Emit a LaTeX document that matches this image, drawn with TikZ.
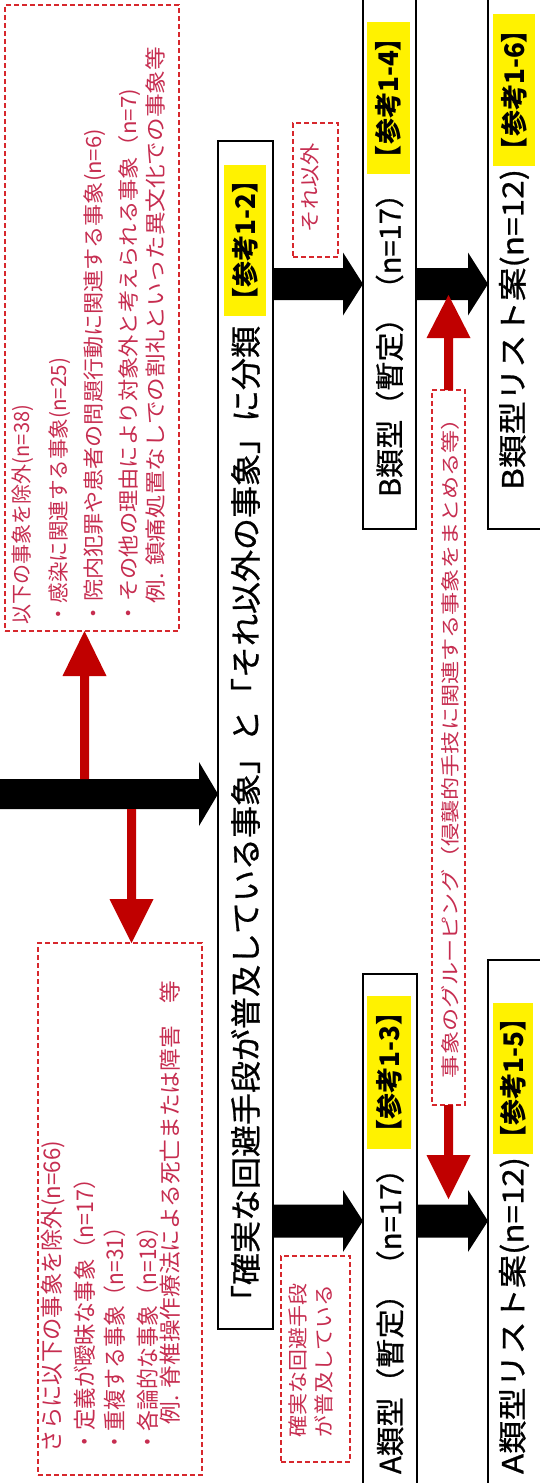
\documentclass[tikz,border=0pt]{standalone}
\usepackage{fontspec}
\setmainfont{Noto Sans CJK JP}
\newfontfamily\jpmed[FakeBold=0.8]{Noto Sans CJK JP}
\usepackage{graphicx}
\usetikzlibrary{calc}
\definecolor{redtxt}{RGB}{198,45,80}
\definecolor{reddash}{RGB}{215,40,45}
\definecolor{darkred}{RGB}{192,0,0}
\newcommand\fitw[2]{\resizebox{#1pt}{\height}{#2}}
% horizontal arrow: start, end, shaft half width, head half width, head length, colour
\newcommand\harrow[6]{\fill[#6] ($(#1)+(0,#3)$) -- ($(#2)+(-#5,#3)$) -- ($(#2)+(-#5,#4)$) -- (#2) -- ($(#2)+(-#5,-#4)$) -- ($(#2)+(-#5,-#3)$) -- ($(#1)+(0,-#3)$) -- cycle;}
% vertical arrow: start, end, shaft half width, head half width, signed head length (image y), colour
\newcommand\varrow[6]{\fill[#6] ($(#1)+(-#3,0)$) -- ($(#2)+(-#3,#5)$) -- ($(#2)+(-#4,#5)$) -- (#2) -- ($(#2)+(#4,#5)$) -- ($(#2)+(#3,#5)$) -- ($(#1)+(#3,0)$) -- cycle;}
\tikzset{
  blkbox/.style={draw=black, line width=1.2pt, fill=white, inner sep=0pt, outer sep=0pt},
  redbox/.style={draw=reddash, line width=1.2pt, dash pattern=on 5pt off 3pt, inner sep=0pt, outer sep=0pt},
  txt/.style={rotate=90, anchor=west, inner sep=0pt, outer sep=0pt},
  redtext/.style={txt, text=redtxt, font=\fontsize{#1}{#1}\selectfont},
  blktext/.style={txt, text=black, font=\jpmed\fontsize{#1}{#1}\selectfont},
  hl/.style={rotate=90, fill=yellow, inner sep=0pt, outer sep=0pt, font=\fontsize{27}{27}\selectfont\bfseries},
}
\begin{document}
\begin{tikzpicture}[x=1pt, y=-1pt]
\useasboundingbox (0,0) rectangle (540,1483);
\clip (0,0) rectangle (540,1483);

% boxes
\node[blkbox, minimum width=55pt, minimum height=1188pt] (title) at (245.5,735) {};
\node[blkbox, minimum width=54pt, minimum height=526pt] (Abox) at (390,1237) {};
\node[blkbox, minimum width=57pt, minimum height=540pt] (Alist) at (516.5,1230) {};
\node[blkbox, minimum width=53pt, minimum height=549pt] (Bbox) at (389.5,254.5) {};
\node[blkbox, minimum width=57pt, minimum height=549pt] (Blist) at (516.5,254.5) {};
\node[redbox, minimum width=174pt, minimum height=626pt] (topbox) at (92,318) {};
\node[redbox, minimum width=164pt, minimum height=532pt] (botbox) at (120,1209) {};
\node[redbox, minimum width=45pt, minimum height=134pt] (sorebox) at (315.5,190) {};
\node[redbox, minimum width=69pt, minimum height=206pt] (kakubox) at (315.5,1359) {};
\node[redbox, minimum width=33pt, minimum height=715pt] (midbox) at (448.5,747.5) {};

% black arrows
\coordinate (m0) at (0,794);
\coordinate (m1) at (title.west |- m0);
\harrow{m0}{m1}{15}{32}{19}{black}
\coordinate (yA) at (0,1221);
\coordinate (yB) at (0,284);
\coordinate (a1) at (title.east |- yA);
\coordinate (a2) at (Abox.west |- yA);
\coordinate (a3) at (Abox.east |- yA);
\coordinate (a4) at (Alist.west |- yA);
\coordinate (b1) at (title.east |- yB);
\coordinate (b2) at (Bbox.west |- yB);
\coordinate (b3) at (Bbox.east |- yB);
\coordinate (b4) at (Blist.west |- yB);
\harrow{a1}{a2}{16.5}{31}{20}{black}
\harrow{a3}{a4}{16.5}{31}{20}{black}
\harrow{b1}{b2}{16}{31.5}{20}{black}
\harrow{b3}{b4}{16}{31.5}{20}{black}

% red arrows
\coordinate (ru0) at (84.5,779);
\coordinate (ru1) at (topbox.south -| ru0);
\varrow{ru0}{ru1}{4.5}{22}{45}{darkred}
\coordinate (rd0) at (131.5,809);
\coordinate (rd1) at (botbox.north -| rd0);
\varrow{rd0}{rd1}{4.5}{22}{-44}{darkred}
\coordinate (mu1) at ($(midbox.north)+(0,-95)$);
\varrow{midbox.north}{mu1}{4.5}{22}{43}{darkred}
\coordinate (md1) at ($(midbox.south)+(0,94)$);
\varrow{midbox.south}{md1}{4.5}{22}{-44}{darkred}

% highlights
\node[hl, minimum width=151pt, minimum height=42pt] (h12) at (245,240.5) {\fitw{146}{【参考1-2】}};
\node[hl, minimum width=153pt, minimum height=44pt] (h13) at (389,1072.5) {\fitw{146}{【参考1-3】}};
\node[hl, minimum width=151pt, minimum height=40pt] (h15) at (513,1078.5) {\fitw{146}{【参考1-5】}};
\node[hl, minimum width=152pt, minimum height=43pt] (h14) at (388.5,98) {\fitw{146}{【参考1-4】}};
\node[hl, minimum width=152pt, minimum height=42pt] (h16) at (514,90) {\fitw{146}{【参考1-6】}};

% black texts
\node[blktext=31] (ttl) at (245.5,1317) {\fitw{991}{「確実な回避手段が普及している事象」と「それ以外の事象」に分類}};
\node[blktext=29] (Atxt) at (390,1474) {\fitw{320}{A類型（暫定）（n=17）}};
\node[blktext=29] (Altxt) at (514,1474) {\fitw{317}{A類型リスト案(n=12)}};
\node[blktext=29] (Btxt) at (389.5,497) {\fitw{318}{B類型（暫定）（n=17）}};
\node[blktext=29] (Bltxt) at (514,490) {\fitw{321}{B類型リスト案(n=12)}};

% red texts, top box
\node[redtext=21] (t1) at (23,624) {\fitw{219}{以下の事象を除外(n=38)}};
\node[redtext=21] (t2) at (60,624) {\fitw{266}{・感染に関連する事象(n=25)}};
\node[redtext=21] (t3) at (95,624) {\fitw{495}{・院内犯罪や患者の問題行動に関連する事象(n=6)}};
\node[redtext=21] (t4) at (130,624) {\fitw{535}{・その他の理由により対象外と考えられる事象（n=7)}};
\node[redtext=21] (t5) at (155,603) {\fitw{556}{例. 鎮痛処置なしでの割礼といった異文化での事象等}};

% red texts, bottom box
\node[redtext=23] (u1) at (53,1452) {\fitw{311}{さらに以下の事象を除外(n=66)}};
\node[redtext=23] (u2) at (85,1452) {\fitw{284}{・定義が曖昧な事象（n=17）}};
\node[redtext=23] (u3) at (115,1452) {\fitw{235}{・重複する事象（n=31）}};
\node[redtext=23] (u4) at (148,1452) {\fitw{235}{・各論的な事象（n=18）}};
\node[redtext=22] (u5) at (170,1424) {\fitw{443}{例. 脊椎操作療法による死亡または障害　等}};

% small red boxes
\node[redtext=20] (s1) at (310,232) {\fitw{89}{それ以外}};
\node[redtext=20] (k1) at (298,1437) {\fitw{154}{確実な回避手段}};
\node[redtext=20] (k2) at (324,1437) {\fitw{152}{が普及している}};
\node[redtext=19] (g1) at (450,1078) {\fitw{671}{事象のグルーピング（侵襲的手技に関連する事象をまとめる等）}};
\end{tikzpicture}
\end{document}
